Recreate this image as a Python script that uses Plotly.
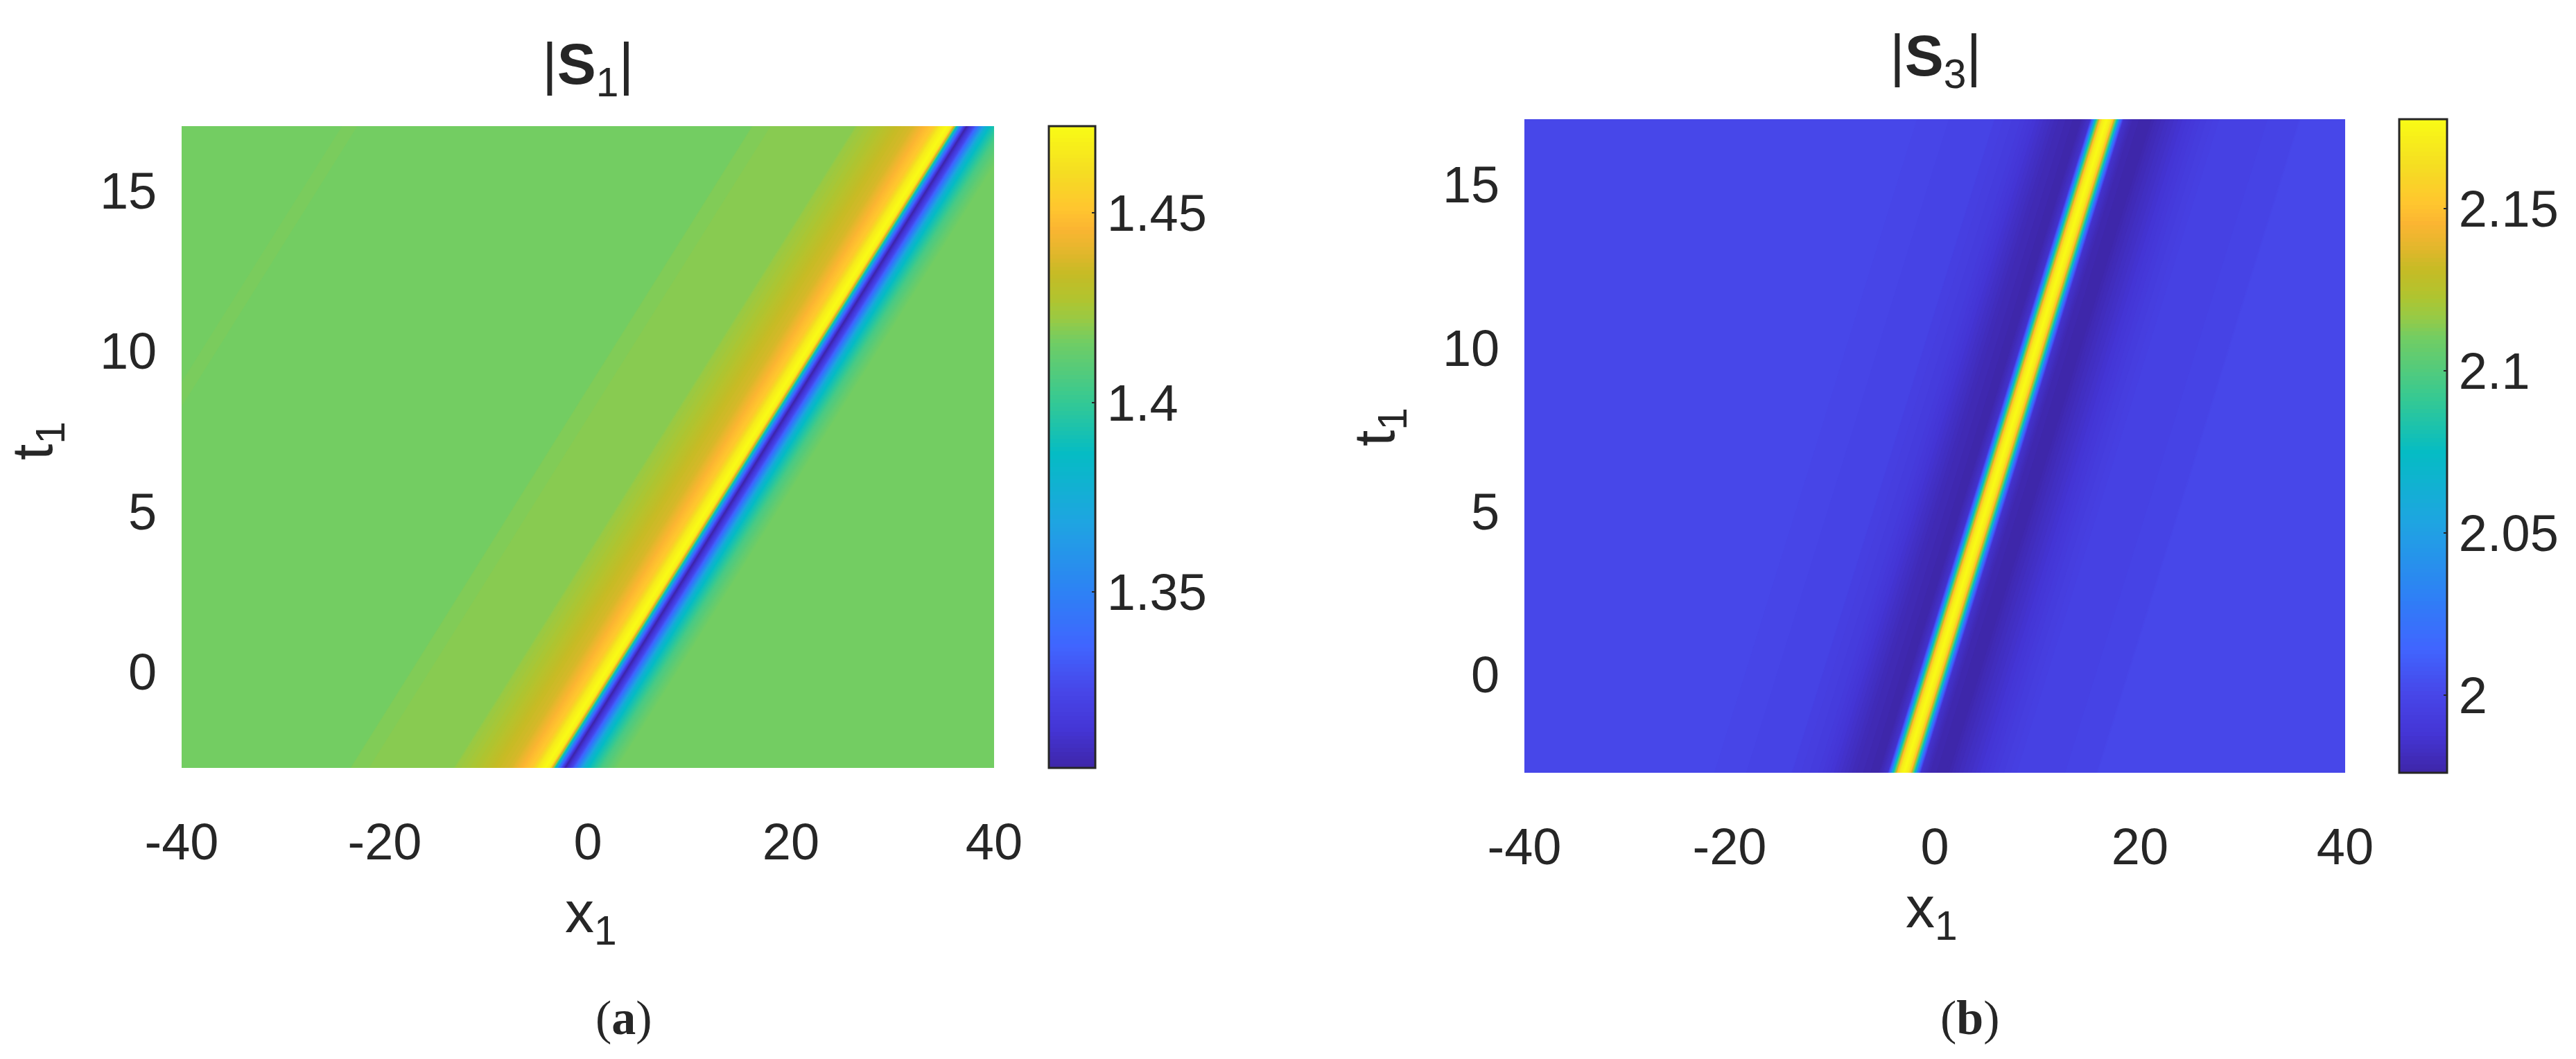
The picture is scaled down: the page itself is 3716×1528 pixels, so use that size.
import plotly.graph_objects as go

W, H = 3716, 1528

# parula
parula = [
    [0.00, "#3E26A8"], [0.06, "#4435D5"], [0.12, "#4746E8"], [0.19, "#4065FF"],
    [0.27, "#2E80F5"], [0.38, "#1FA4E2"], [0.49, "#05BCC4"], [0.57, "#34C994"],
    [0.665, "#72CD63"], [0.70, "#99CA43"], [0.73, "#B1C42F"], [0.77, "#C6BB25"],
    [0.80, "#E0B72B"], [0.84, "#FBB532"], [0.87, "#FFC52F"], [0.93, "#F5DE22"],
    [1.00, "#F9FB15"],
]

x_ticks = [-40, -20, 0, 20, 40]
x_ticktext = ["-40", "-20", "0", "20", "40"]
t_ticks = [0, 5, 10, 15]

# |S1|: dip position per t, profile across the soliton relative to the dip
s1_t = [-3, 2, 7, 12, 17]
s1_dip_x = [-2.25, 7.65, 17.5, 27.4, 37.3]
s1_offset = [-130, -61.6, -61.4, -60.1, -59.9, -21.2, -21.0, -11.0, -10.75, -8.55,
             -6.75, -5.35, -4.25, -3.25, -2.6, -1.95, -1.5, -1.35, -1.15, -1.05,
             -0.65, 0, 0.68, 1.25, 1.91, 2.38, 3.55, 4.45, 5.15, 90]
s1_value = [1.4162, 1.4162, 1.4175, 1.4175, 1.4162, 1.4162, 1.4188, 1.4196, 1.4221, 1.4272,
            1.4340, 1.4374, 1.4458, 1.4526, 1.4661, 1.4729, 1.4678, 1.4475, 1.4221, 1.4001,
            1.3493, 1.3036, 1.3239, 1.3493, 1.3781, 1.3883, 1.4052, 1.4120, 1.4162, 1.4162]
s1_ticks = [1.35, 1.4, 1.45]
s1_ticktext = ["1.35", "1.4", "1.45"]
s1_range = [1.3036, 1.4729]

# |S3|: crest position per t, profile relative to the crest
s3_t = [-3, 2, 7, 12, 17]
s3_crest_x = [-3.0, 1.95, 6.9, 11.8, 16.75]
s3_offset = [-70, -18.5, -18.3, -11.0, -10.9, -8.2, -6.5, -4.8, -2.6, -1.6,
             -1.5, -1.25, -1.05, -0.85, -0.65, -0.4, 0, 0.4, 0.65, 0.85,
             1.05, 1.25, 1.55, 1.65, 2.6, 4.1, 5.0, 7.0, 9.0, 11.0, 18.7, 18.9, 70]
s3_value = [2.0, 2.0, 1.999, 1.9982, 1.9962, 1.9921, 1.9861, 1.980, 1.976, 1.986,
            2.0, 2.0324, 2.0768, 2.111, 2.1474, 2.1695, 2.1776, 2.1695, 2.1474, 2.111,
            2.0768, 2.0324, 2.0, 1.986, 1.978, 1.976, 1.980, 1.9861, 1.9921, 1.9962, 1.9982, 2.0, 2.0]
s3_ticks = [2, 2.05, 2.1, 2.15]
s3_ticktext = ["2", "2.05", "2.1", "2.15"]
s3_range = [1.976, 2.1776]

TEXT = "#262626"
SANS = "Liberation Sans"


def add_panel(fig, n, ts, centre, offset, value, zrange, cticks, cticktext, bar_x, bar_y, bar_w, bar_h):
    carpet = f"c{n}"
    suffix = "" if n == 1 else str(n)
    hidden = dict(showgrid=False, showline=False, showticklabels="none", startline=False,
                  endline=False, minorgridcount=0, smoothing=0)
    fig.add_trace(go.Carpet(
        carpet=carpet, a=offset, b=ts,
        x=[[c + o for o in offset] for c in centre],
        y=[[t for _ in offset] for t in ts],
        aaxis=hidden, baxis=hidden,
        xaxis=f"x{suffix}", yaxis=f"y{suffix}",
    ))
    fig.add_trace(go.Contourcarpet(
        carpet=carpet, a=offset, b=ts, z=[value for _ in ts],
        colorscale=parula, zmin=zrange[0], zmax=zrange[1], autocontour=False,
        contours=dict(start=zrange[0], end=zrange[1], size=(zrange[1] - zrange[0]) / 160,
                      coloring="fill", showlines=False),
        line=dict(width=0),
        colorbar=dict(
            x=bar_x / W, xanchor="left", xpad=0, y=1 - bar_y / H, yanchor="top", ypad=0,
            len=bar_h / H, lenmode="fraction", thickness=bar_w, thicknessmode="pixels",
            outlinecolor=TEXT, outlinewidth=3, ticks="inside", ticklen=6, tickwidth=2,
            tickcolor=TEXT, tickvals=cticks, ticktext=cticktext,
            tickfont=dict(family=SANS, size=74, color=TEXT),
        ),
        xaxis=f"x{suffix}", yaxis=f"y{suffix}",
    ))


def label(text, x, y, size=76, family=SANS, angle=0):
    return dict(text=text, x=x / W, y=1 - y / H, xref="paper", yref="paper", showarrow=False,
                xanchor="center", yanchor="middle", textangle=angle,
                font=dict(family=family, size=size, color=TEXT))


fig = go.Figure()
add_panel(fig, 1, s1_t, s1_dip_x, s1_offset, s1_value, s1_range, s1_ticks, s1_ticktext, 1513, 182, 67, 926)
add_panel(fig, 2, s3_t, s3_crest_x, s3_offset, s3_value, s3_range, s3_ticks, s3_ticktext, 3461, 172, 69, 943)


def xax(x0, x1):
    return dict(domain=[x0 / W, x1 / W], range=[-40, 40], tickvals=x_ticks, ticktext=x_ticktext,
                ticks="outside", ticklen=42, tickcolor="rgba(0,0,0,0)", showgrid=False,
                zeroline=False, showline=False, tickfont=dict(family=SANS, size=74, color=TEXT))


def yax(y0, y1, anchor):
    return dict(domain=[1 - y1 / H, 1 - y0 / H], range=[-3, 17], tickvals=t_ticks, anchor=anchor,
                ticks="outside", ticklen=20, tickcolor="rgba(0,0,0,0)", showgrid=False,
                zeroline=False, showline=False, tickfont=dict(family=SANS, size=74, color=TEXT))


fig.update_layout(
    width=W, height=H, margin=dict(l=0, r=0, t=0, b=0, autoexpand=False),
    paper_bgcolor="white", plot_bgcolor="white", showlegend=False,
    xaxis=xax(262, 1434), yaxis=yax(182, 1108, "x"),
    xaxis2=dict(xax(2199, 3383), anchor="y2"), yaxis2=yax(172, 1115, "x2"),
    annotations=[
        label("|<b>S</b><sub>1</sub>|", 848, 98, size=84),
        label("|<b>S</b><sub>3</sub>|", 2792, 86, size=84),
        label("x<sub>1</sub>", 852, 1322, size=84),
        label("x<sub>1</sub>", 2786, 1315, size=84),
        label("t<sub>1</sub>", 52, 636, size=84, angle=-90),
        label("t<sub>1</sub>", 1988, 616, size=84, angle=-90),
        label("(<b>a</b>)", 900, 1468, size=70, family="Liberation Serif"),
        label("(<b>b</b>)", 2842, 1468, size=70, family="Liberation Serif"),
    ],
)

fig.write_html("out.html", config={"displayModeBar": False},
               post_script="document.body.style.margin='0';")
